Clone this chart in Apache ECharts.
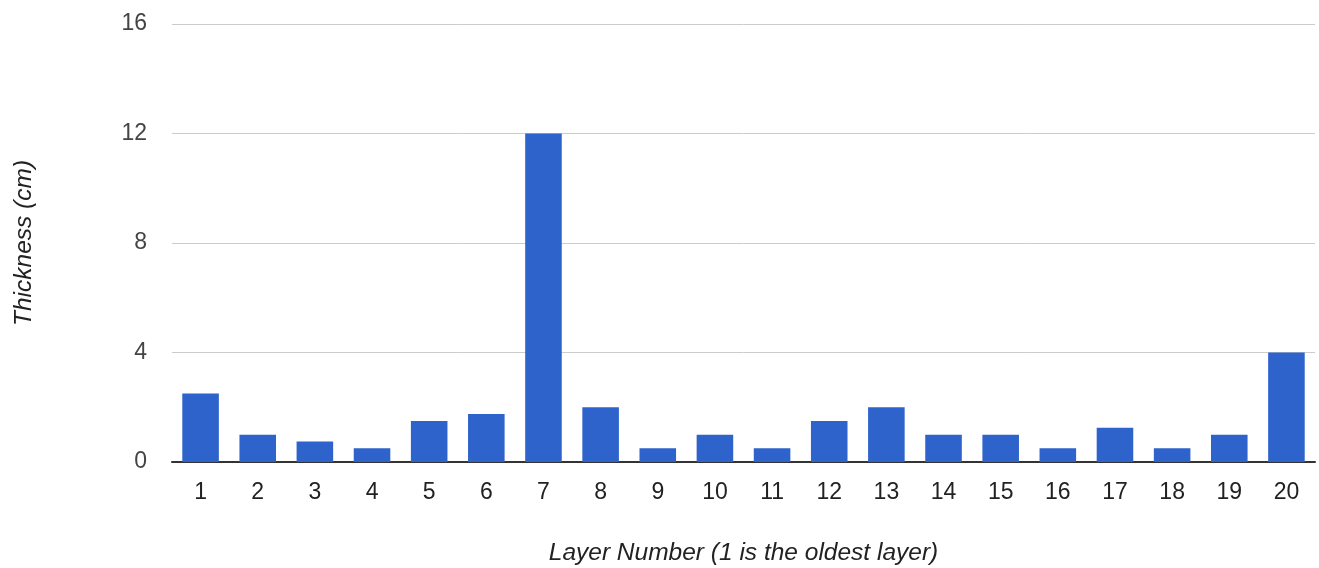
<!DOCTYPE html>
<html>
<head>
<meta charset="utf-8">
<script src="https://cdn.jsdelivr.net/npm/echarts@6/dist/echarts.min.js"></script>
<style>
html,body{margin:0;padding:0;background:#fff;}
#chart{width:1319px;height:568px;}
</style>
</head>
<body>
<div id="chart"></div>
<script>
const categories = ['1','2','3','4','5','6','7','8','9','10','11','12','13','14','15','16','17','18','19','20'];
const thickness = [2.5, 1, 0.75, 0.5, 1.5, 1.75, 12, 2, 0.5, 1, 0.5, 1.5, 2, 1, 1, 0.5, 1.25, 0.5, 1, 4];
const yTicks = [0, 4, 8, 12, 16];
const xTitle = 'Layer Number (1 is the oldest layer)';
const yTitle = 'Thickness (cm)';

const chart = echarts.init(document.getElementById('chart'), null, {renderer: 'canvas'});
const font = 'Liberation Sans, Arial, sans-serif';
chart.setOption({
  animation: false,
  backgroundColor: '#fff',
  grid: {left: 172, right: 4, top: 24, bottom: 106, containLabel: false, outerBoundsMode: 'none'},
  xAxis: {
    type: 'category',
    data: categories,
    name: xTitle,
    nameLocation: 'middle',
    nameGap: 79,
    nameTextStyle: {fontFamily: font, fontStyle: 'italic', fontSize: 24.5, color: '#222'},
    axisLine: {show: true, lineStyle: {color: '#333', width: 2}},
    axisTick: {show: false},
    axisLabel: {fontFamily: font, fontSize: 23, color: '#222', margin: 19}
  },
  yAxis: {
    type: 'value',
    min: yTicks[0],
    max: yTicks[yTicks.length - 1],
    interval: 4,
    name: yTitle,
    nameLocation: 'middle',
    nameGap: 135,
    nameRotate: 90,
    nameTextStyle: {fontFamily: font, fontStyle: 'italic', fontSize: 24.5, color: '#222'},
    axisLine: {show: false},
    axisTick: {show: false},
    axisLabel: {fontFamily: font, fontSize: 23, color: '#444', margin: 25},
    splitLine: {show: true, lineStyle: {color: '#ccc', width: 1}}
  },
  series: [{
    type: 'bar',
    data: thickness,
    barCategoryGap: '36%',
    itemStyle: {color: '#2e63cb'}
  }]
});
</script>
</body>
</html>
